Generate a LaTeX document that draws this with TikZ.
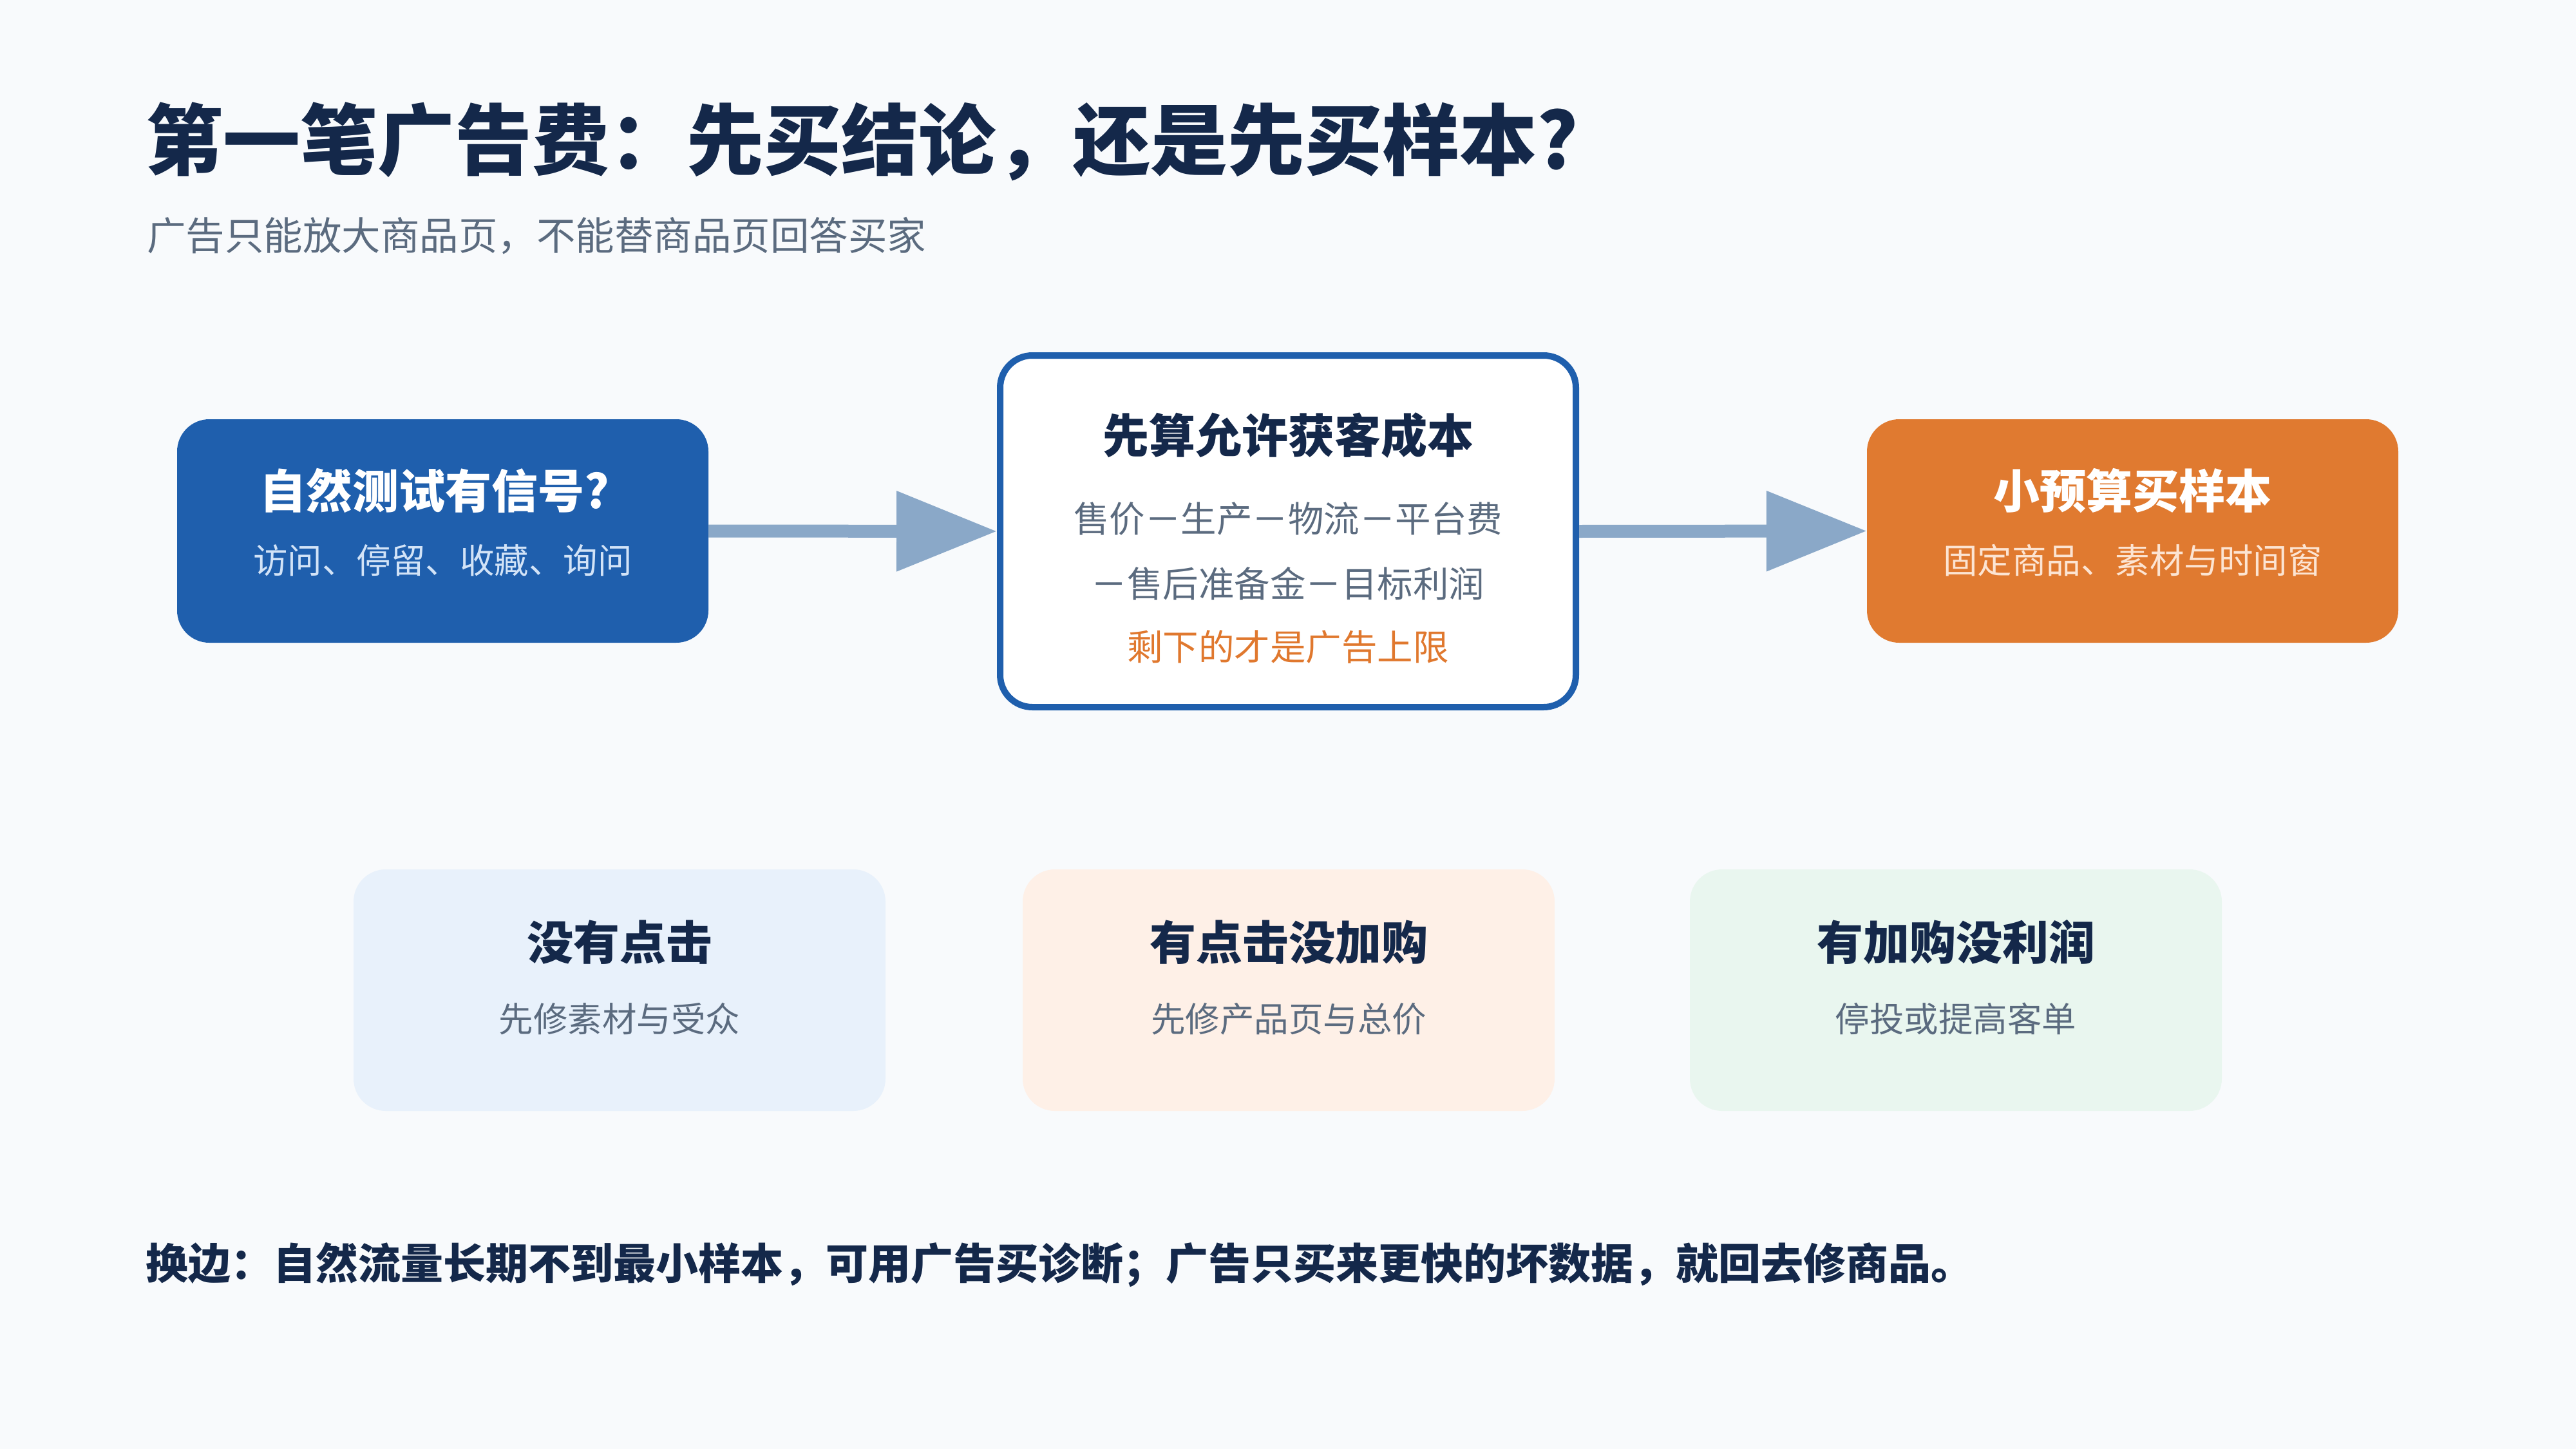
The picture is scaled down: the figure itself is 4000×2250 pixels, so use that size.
\documentclass[tikz,border=0pt]{standalone}
\usepackage{fontspec}
\setmainfont{Noto Sans CJK SC}
\usetikzlibrary{arrows.meta}
\definecolor{bgc}{HTML}{F8FAFC}
\definecolor{navy}{HTML}{14284A}
\definecolor{graytxt}{HTML}{5B6B7F}
\definecolor{blueb}{HTML}{1F5FAD}
\definecolor{orangeb}{HTML}{E07A30}
\definecolor{arrowc}{HTML}{8AA8C8}
\definecolor{lightbluetxt}{HTML}{D2E3F7}
\definecolor{peachtxt}{HTML}{FCE4D2}
\definecolor{orangetxt}{HTML}{E0782E}
\definecolor{fillA}{HTML}{E8F1FB}
\definecolor{fillB}{HTML}{FEF0E7}
\definecolor{fillC}{HTML}{E9F6EF}
\newcommand\myfs[1]{\fontsize{#1pt}{#1pt}\selectfont}
\begin{document}
\begin{tikzpicture}[x=1pt,y=-1pt,
  txt/.style={inner sep=0pt, anchor=center},
  topbox/.style={rounded corners=50pt, minimum width=825pt, minimum height=347pt, inner sep=0pt},
  midbox/.style={rounded corners=50pt, draw=blueb, line width=10pt, fill=white, minimum width=894pt, minimum height=546pt, inner sep=0pt},
  lowbox/.style={rounded corners=50pt, minimum width=826pt, minimum height=375pt, inner sep=0pt},
  bigarrow/.style={draw=arrowc, line width=20pt, -{Triangle[length=156pt,width=120pt,fill=arrowc]}},
  boxtitle/.style={txt, font=\myfs{72}\bfseries},
  boxsub/.style={txt, font=\myfs{53.5}},
  midsub/.style={txt, font=\myfs{55.5}}
]
\path[fill=bgc] (0,0) rectangle (4000,2250);

% title and subtitle
\node[inner sep=0pt, anchor=west, text=navy, font=\myfs{120}\bfseries] (title) at (226,220) {第一笔广告费：先买结论，还是先买样本?};
\node[inner sep=0pt, anchor=west, text=graytxt, font=\myfs{60.5}] (subtitle) at (228,366) {广告只能放大商品页，不能替商品页回答买家};

% top row boxes
\node[topbox, fill=blueb] (left) at (687.5,824.5) {};
\node[midbox] (mid) at (2000,825) {};
\node[topbox, fill=orangeb] (right) at (3311.5,824.5) {};

\node[boxtitle, text=white] (leftT) at (675,762) {自然测试有信号?};
\node[boxsub, text=lightbluetxt] (leftS) at (687.5,870) {访问、停留、收藏、询问};

\node[boxtitle, text=navy] (midT) at (2000,676) {先算允许获客成本};
\node[midsub, text=graytxt] (midL1) at (2000,806) {售价－生产－物流－平台费};
\node[midsub, text=graytxt] (midL2) at (2000,906) {－售后准备金－目标利润};
\node[midsub, text=orangetxt] (midL3) at (2000,1005) {剩下的才是广告上限};

\node[boxtitle, text=white] (rightT) at (3311.5,762) {小预算买样本};
\node[boxsub, text=peachtxt] (rightS) at (3311.5,870) {固定商品、素材与时间窗};

% arrows
\draw[bigarrow] (left.east) -- (mid.west);
\draw[bigarrow] (mid.east) -- (right.west);

% bottom row
\node[lowbox, fill=fillA] (b1) at (962,1537.5) {};
\node[lowbox, fill=fillB] (b2) at (2001,1537.5) {};
\node[lowbox, fill=fillC] (b3) at (3037,1537.5) {};

\node[boxtitle, text=navy] (b1T) at (962,1463) {没有点击};
\node[boxsub, text=graytxt] (b1S) at (962,1582) {先修素材与受众};
\node[boxtitle, text=navy] (b2T) at (2001,1463) {有点击没加购};
\node[boxsub, text=graytxt] (b2S) at (2001,1582) {先修产品页与总价};
\node[boxtitle, text=navy] (b3T) at (3037,1463) {有加购没利润};
\node[boxsub, text=graytxt] (b3S) at (3037,1582) {停投或提高客单};

% footer note
\node[inner sep=0pt, anchor=west, text=navy, font=\myfs{66}\bfseries] (note) at (226,1964) {换边：自然流量长期不到最小样本，可用广告买诊断；广告只买来更快的坏数据，就回去修商品。};
\end{tikzpicture}
\end{document}
